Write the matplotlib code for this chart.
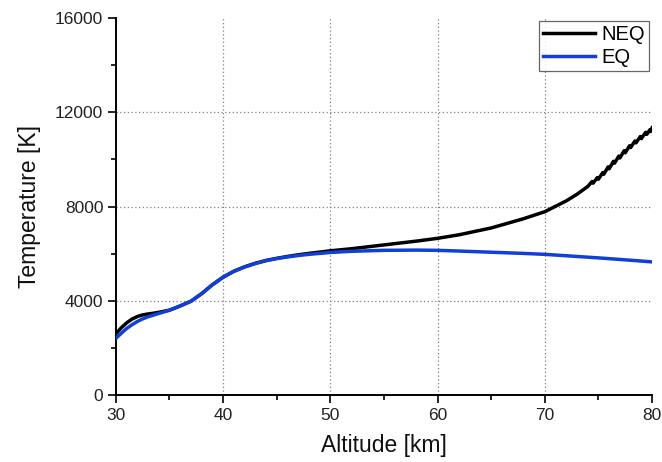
import matplotlib
matplotlib.use("Agg")
import matplotlib.pyplot as plt
from matplotlib.ticker import MultipleLocator

plt.rcParams['font.family'] = ['Liberation Sans', 'DejaVu Sans']

# NEQ (non-equilibrium) temperature profile
neq_alt = [30, 30.5, 31, 31.5, 32, 32.5, 33, 33.5, 34, 35, 36, 37, 38, 39, 40,
           41, 42, 43, 44, 45, 46, 47, 48, 50, 52, 55, 58, 60, 62, 65, 68, 70,
           72, 73, 74, 74.4, 74.5, 74.9, 75.0, 75.4, 75.5, 75.9, 76.0, 76.4, 76.5,
           76.9, 77.0, 77.4, 77.5, 77.9, 78.0, 78.4, 78.5, 78.9, 79.0, 79.4, 79.5,
           79.8, 79.85, 80]
neq_temp = [2600, 2850, 3060, 3220, 3330, 3400, 3440, 3470, 3510, 3600, 3780, 3980,
            4300, 4680, 5000, 5250, 5440, 5590, 5710, 5800, 5880, 5950, 6010, 6120,
            6210, 6370, 6530, 6650, 6800, 7090, 7480, 7780, 8240, 8520, 8850,
            9060, 8990, 9230, 9160, 9440, 9370, 9680, 9600, 9920, 9840, 10140,
            10060, 10370, 10280, 10580, 10500, 10780, 10700, 10970, 10880, 11150,
            11060, 11260, 11180, 11340]

# EQ (equilibrium) temperature profile
eq_alt = [30, 30.5, 31, 31.5, 32, 32.5, 33, 34, 35, 36, 37, 38, 39, 40, 41, 42,
          43, 44, 45, 46, 47, 48, 50, 52, 55, 58, 60, 62, 65, 68, 70, 72, 75, 78, 80]
eq_temp = [2400, 2620, 2820, 2980, 3120, 3230, 3320, 3460, 3600, 3780, 3980, 4300,
           4680, 5000, 5250, 5430, 5580, 5700, 5790, 5860, 5920, 5970, 6050, 6100,
           6140, 6150, 6140, 6110, 6060, 6010, 5970, 5910, 5820, 5720, 5650]

series_labels = ["NEQ", "EQ"]
x_ticks = [30, 40, 50, 60, 70, 80]
y_ticks = [0, 4000, 8000, 12000, 16000]

fig = plt.figure(figsize=(6.62, 4.62), dpi=100)
ax = fig.add_axes([0.175, 0.145, 0.810, 0.816])

# dotted grid at inner major ticks only
for xv in x_ticks[1:-1]:
    ax.axvline(xv, linestyle=(0, (1, 2)), color='#808080', linewidth=0.9, zorder=1)
for yv in y_ticks[1:-1]:
    ax.axhline(yv, linestyle=(0, (1, 2)), color='#808080', linewidth=0.9, zorder=1)

ax.plot(neq_alt, neq_temp, color='black', lw=2.5, label=series_labels[0], zorder=3)
ax.plot(eq_alt, eq_temp, color='#1040d8', lw=2.5, label=series_labels[1], zorder=4)

ax.set_xlim(30, 80)
ax.set_ylim(0, 16000)
ax.set_xticks(x_ticks)
ax.set_yticks(y_ticks)
ax.xaxis.set_minor_locator(MultipleLocator(5))
ax.yaxis.set_minor_locator(MultipleLocator(2000))

ax.spines['top'].set_visible(False)
ax.spines['right'].set_visible(False)
for s in ['left', 'bottom']:
    ax.spines[s].set_linewidth(1.4)

ax.tick_params(which='major', direction='out', length=6, width=1.2, labelsize=12.5,
               pad=3, labelcolor='#222222')
ax.tick_params(which='minor', direction='out', length=3.5, width=1.2)

ax.set_xlabel('Altitude [km]', fontsize=16.5, labelpad=8, color='#111111')
ax.set_ylabel('Temperature [K]', fontsize=16.5, labelpad=10, color='#111111')

leg = ax.legend(loc='upper right', fontsize=14.5, frameon=True, fancybox=False,
                edgecolor='#404040', borderaxespad=0.15, handlelength=2.6,
                handletextpad=0.3, labelspacing=0.2, borderpad=0.2)
leg.get_frame().set_linewidth(0.9)

fig.savefig('out.png', dpi=100)
